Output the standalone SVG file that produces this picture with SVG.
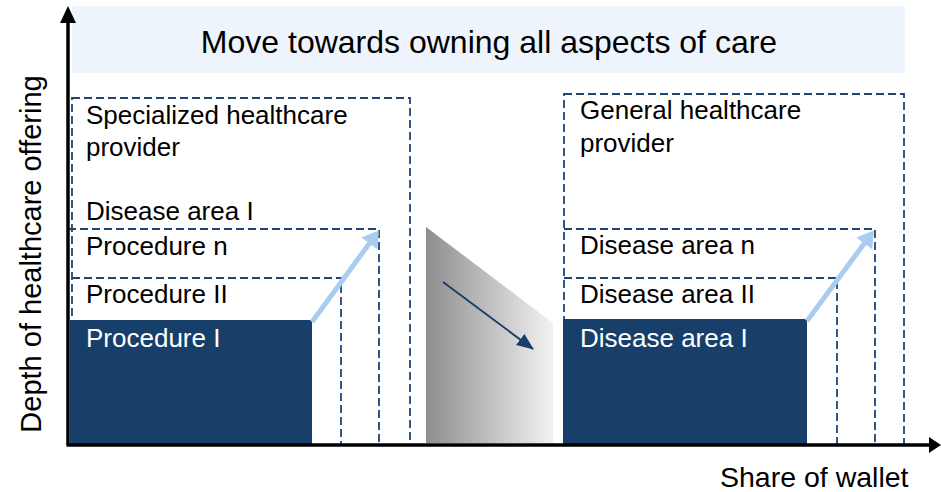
<svg xmlns="http://www.w3.org/2000/svg" width="941" height="492" viewBox="0 0 941 492">
<style>
text{font-family:"Liberation Sans",Arial,sans-serif;fill:#000}
.lbl{font-size:26px}
.wt{fill:#fff}
.dash{fill:none;stroke:#1F4670;stroke-width:1.8;stroke-dasharray:8 4}
.dark{fill:#173F69}
.growth{stroke:#A9CDF0;stroke-width:5;fill:none}
</style>
<defs>
<linearGradient id="gr" x1="0" y1="0" x2="1" y2="0">
<stop offset="0" stop-color="#8E8E8E"/>
<stop offset="1" stop-color="#F2F2F2"/>
</linearGradient>
<marker id="ab" markerWidth="4" markerHeight="4" refX="2.6" refY="2" orient="auto" markerUnits="strokeWidth">
<path d="M0,0 L3.2,2 L0,4 Z" fill="#A9CDF0"/>
</marker>
<marker id="ad" markerWidth="17" markerHeight="14" refX="16" refY="7" orient="auto" markerUnits="userSpaceOnUse">
<path d="M0,0 L17,7 L0,14 Z" fill="#173F69"/>
</marker>
</defs>

<g id="banner">
<rect x="72" y="6" width="833" height="67" fill="#EDF4FC"/>
<text x="489" y="53" font-size="32" text-anchor="middle">Move towards owning all aspects of care</text>
</g>

<g id="specialized">
<rect class="dash" x="72" y="98" width="338" height="347"/>
<text class="lbl" x="86" y="124">Specialized healthcare</text>
<text class="lbl" x="86" y="156">provider</text>
<text class="lbl" x="86" y="220">Disease area I</text>
</g>
<g id="procedure-n">
<path class="dash" d="M68,229 H379 V445"/>
<text class="lbl" x="86" y="255">Procedure n</text>
</g>
<g id="procedure-2">
<path class="dash" d="M72,278 H341 V445"/>
<text class="lbl" x="86" y="303">Procedure II</text>
</g>
<g id="procedure-1">
<rect class="dark" x="70" y="320" width="242" height="125"/>
<text class="lbl wt" x="86" y="347">Procedure I</text>
</g>

<g id="transition">
<polygon points="426,227 553,323 553,443 426,443" fill="url(#gr)"/>
</g>

<g id="general">
<rect class="dash" x="564" y="94" width="340" height="351"/>
<text class="lbl" x="580" y="119">General healthcare</text>
<text class="lbl" x="580" y="152">provider</text>
</g>
<g id="disease-n">
<path class="dash" d="M564,229 H875 V445"/>
<text class="lbl" x="580" y="254">Disease area n</text>
</g>
<g id="disease-2">
<path class="dash" d="M564,278 H837 V445"/>
<text class="lbl" x="580" y="303">Disease area II</text>
</g>
<g id="disease-1">
<rect class="dark" x="563" y="319" width="244" height="126"/>
<text class="lbl wt" x="580" y="347">Disease area I</text>
</g>

<g id="connectors">
<line class="growth" x1="312" y1="322" x2="377" y2="233" marker-end="url(#ab)"/>
<line class="growth" x1="807" y1="321" x2="872" y2="233" marker-end="url(#ab)"/>
<line x1="443" y1="282" x2="533" y2="349" stroke="#173F69" stroke-width="2" marker-end="url(#ad)"/>
</g>

<g id="axes">
<line x1="68" y1="445" x2="68" y2="20" stroke="#000" stroke-width="3.5"/>
<polygon points="68,6 76,23 60,23" fill="#000"/>
<line x1="66.5" y1="445" x2="932" y2="445" stroke="#000" stroke-width="3.5"/>
<polygon points="941,445 929,437 929,453" fill="#000"/>
<text x="720" y="487" font-size="28.5">Share of wallet</text>
<text transform="translate(41,254) rotate(-90)" font-size="29" text-anchor="middle">Depth of healthcare offering</text>
</g>
</svg>
